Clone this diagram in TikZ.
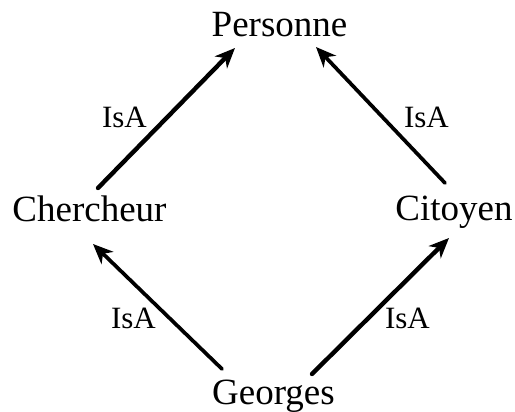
\documentclass[tikz,border=0pt]{standalone}
\usepackage{fontspec}
\setmainfont{Liberation Serif}
\usetikzlibrary{arrows.meta,calc}
\begin{document}
\begin{tikzpicture}[x=1pt,y=-1pt,
  concept/.style={inner sep=0pt,anchor=base,font=\fontsize{37}{40}\selectfont},
  isalabel/.style={inner sep=0pt,anchor=base,font=\fontsize{31}{34}\selectfont},
  isaarrow/.style={-{Stealth[length=20pt,width=17pt,inset=6pt]},line cap=round},
  heavy/.style={line width=4.4pt},
  light/.style={line width=3.7pt}]
\useasboundingbox (0,0) rectangle (515,412);
\node[concept] (pe) at (279.5,37) {Personne};
\node[concept] (ch) at (89.5,222) {Chercheur};
\node[concept] (ci) at (454,220) {Citoyen};
\node[concept] (ge) at (273.5,404) {Georges};
\node[isalabel] (l1) at (124.5,128) {IsA};
\node[isalabel] (l2) at (426.5,128) {IsA};
\node[isalabel] (l3) at (133.5,328) {IsA};
\node[isalabel] (l4) at (407.5,328) {IsA};
\draw[isaarrow,heavy] ($(ch.base)+(8.5,-34)$) -- ($(pe.base)+(-44.5,11)$);
\draw[isaarrow,light] ($(ci.base)+(-9,-37)$) -- ($(pe.base)+(36.5,10)$);
\draw[isaarrow,light] ($(ge.base)+(-51.5,-35)$) -- ($(ch.base)+(3.5,22)$);
\draw[isaarrow,heavy] ($(ge.base)+(38.5,-30)$) -- ($(ci.base)+(-5,18)$);
\end{tikzpicture}
\end{document}
